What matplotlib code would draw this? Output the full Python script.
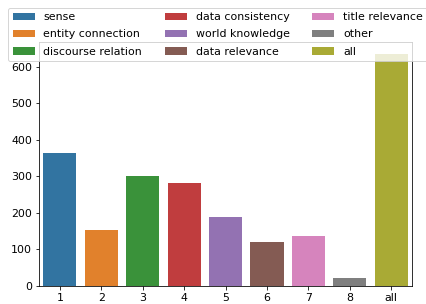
import matplotlib
matplotlib.use("Agg")
import matplotlib.pyplot as plt
import seaborn as sns

# 数据：每类样本数
ticks = ["1", "2", "3", "4", "5", "6", "7", "8", "all"]
labels = ["sense", "entity connection", "discourse relation",
          "data consistency", "world knowledge", "data relevance",
          "title relevance", "other", "all"]
counts = [363, 152, 301, 281, 189, 121, 137, 20, 636]

colors = sns.color_palette("tab10", len(ticks), desat=0.75)

fig = plt.figure(figsize=(426 / 72, 304 / 72), dpi=72)
ax = fig.add_axes([0.092, 0.060, 0.875, 0.802])

for i, (t, lab, c) in enumerate(zip(ticks, labels, counts)):
    ax.bar(i, c, width=0.8, color=colors[i], label=lab)

ax.set_xticks(range(len(ticks)))
ax.set_xticklabels(ticks)
ax.set_xlim(-0.5, len(ticks) - 0.5)
ax.set_ylim(0, max(counts) * 1.05)
ax.tick_params(labelsize=11)

ax.legend(loc="upper left", bbox_to_anchor=(-0.083, 1.14), ncol=3,
          fontsize=11, columnspacing=2.05, labelspacing=0.65,
          borderaxespad=0)

fig.savefig("out.png", dpi=72)
